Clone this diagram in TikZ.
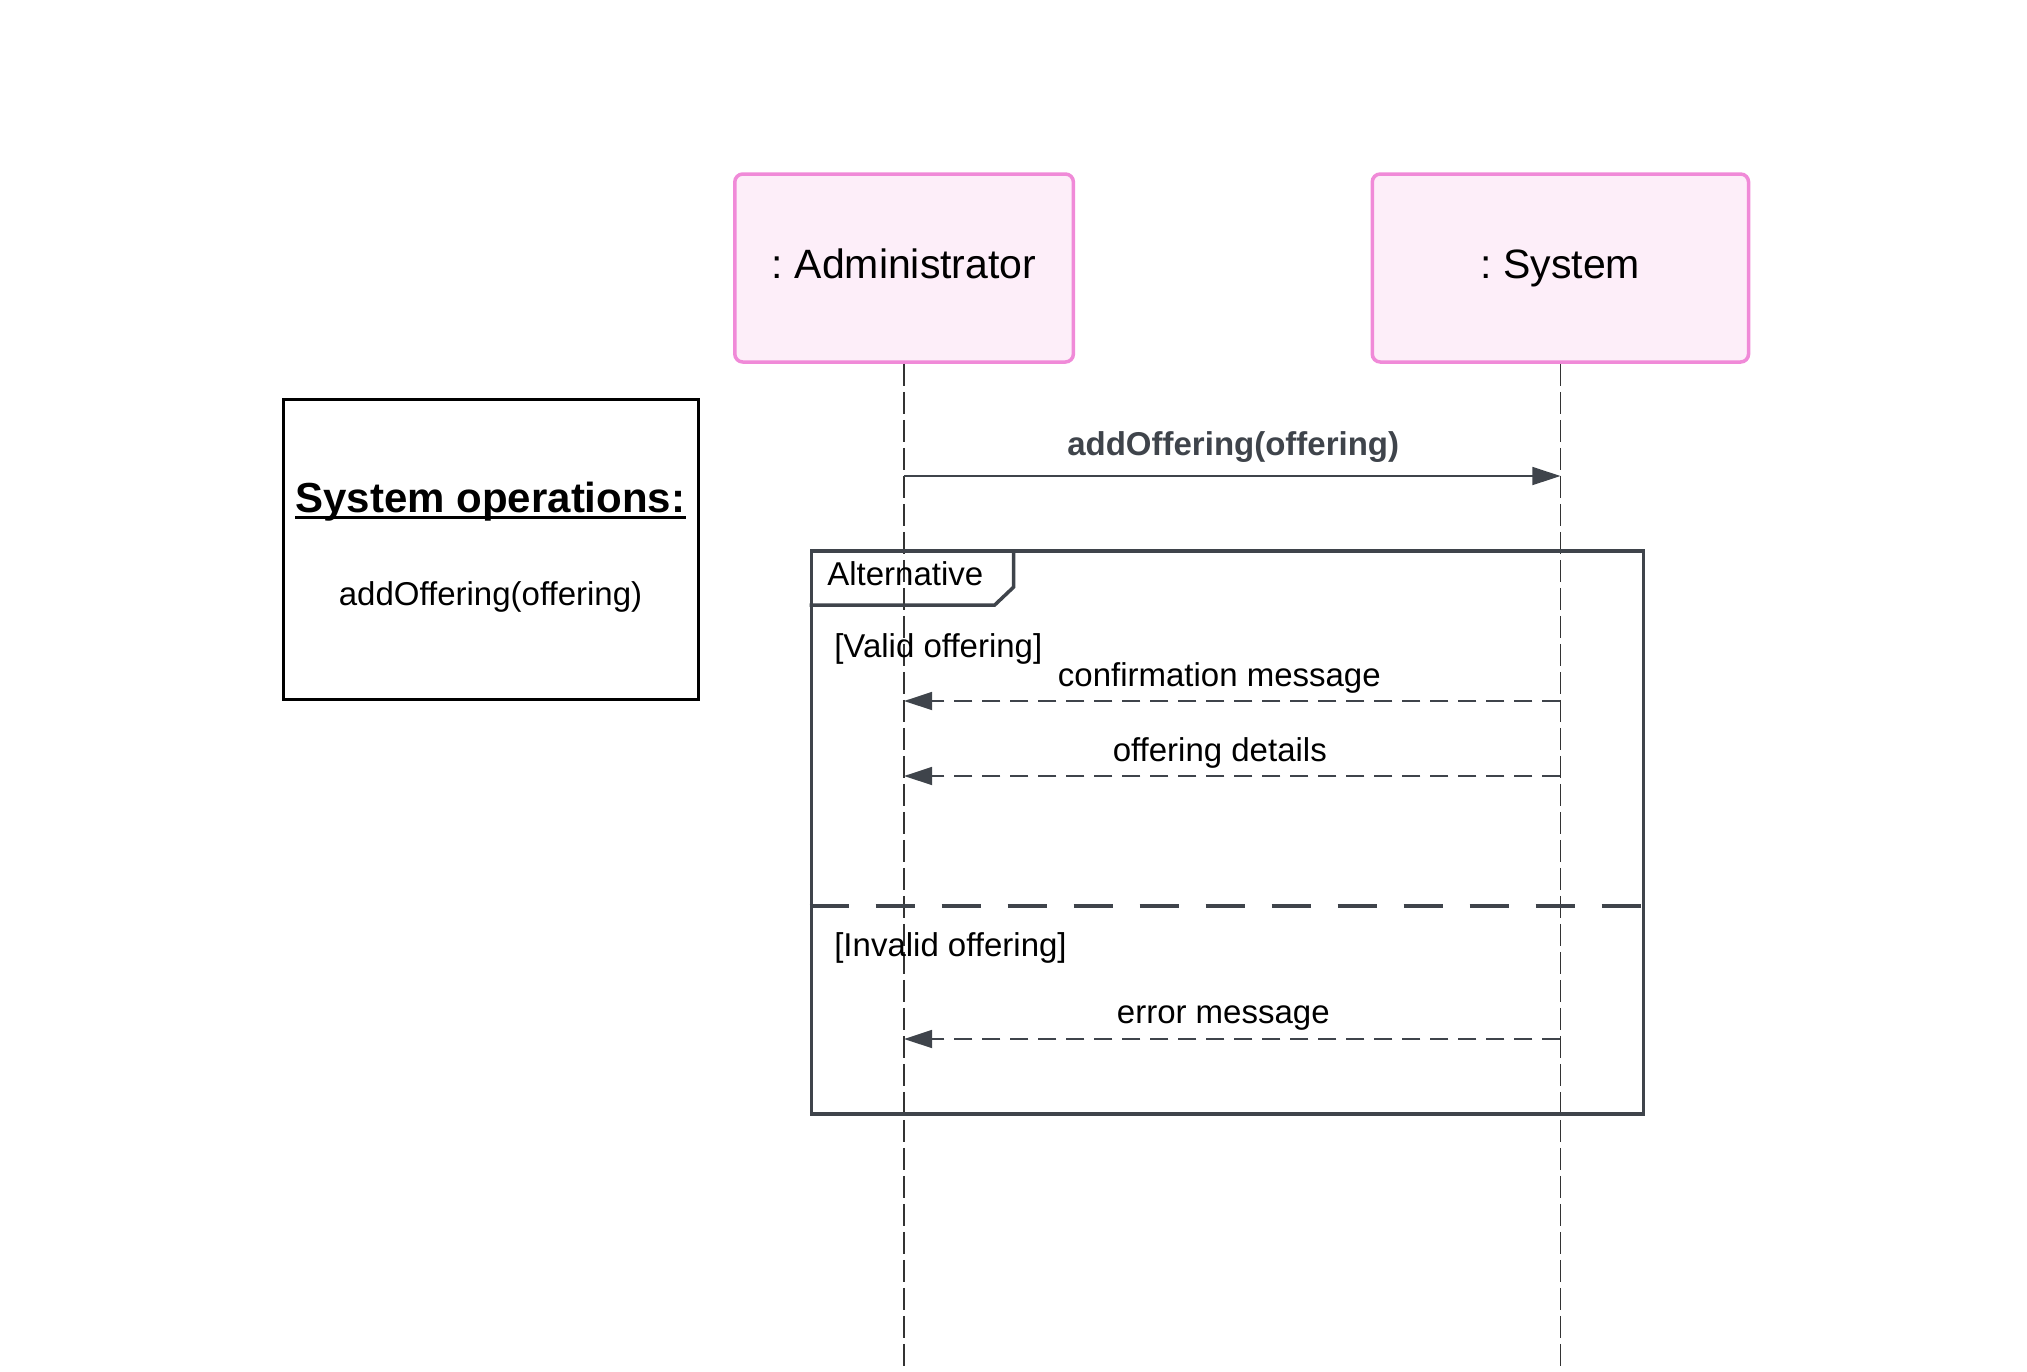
\documentclass[tikz,border=0pt]{standalone}
\usepackage{fontspec}
\setmainfont{Liberation Sans}
\usetikzlibrary{positioning,arrows.meta}
\definecolor{actorfill}{HTML}{FDEEF9}
\definecolor{actorline}{HTML}{F08AD8}
\definecolor{framegray}{HTML}{3F444B}
\frenchspacing

\begin{document}
\begin{tikzpicture}[x=1pt, y=-1pt,
  actor/.style={draw=actorline, fill=actorfill, line width=3.5pt, rounded corners=8pt, minimum height=188pt, inner sep=0pt},
  lifeline/.style={draw=black!80, line width=1.5pt, dash pattern=on 22pt off 6pt},
  call/.style={draw=framegray, line width=1.8pt, -{Triangle[length=28pt,width=18pt]}},
  reply/.style={call, dash pattern=on 18pt off 10pt},
  msg/.style={font=\fontsize{33}{40}\selectfont, inner sep=0pt},
  framelw/.style={draw=framegray, line width=3.5pt}]
\useasboundingbox (0,0) rectangle (2027,1371);

% participants
\node (admin) [actor, minimum width=338.6pt] at (904.1,268) {};
\node (sys) [actor, minimum width=376.3pt] at (1560.4,268) {};
\node (adminlbl) [anchor=base, inner sep=0pt, font=\fontsize{41}{49}\selectfont] at (904.1,278) {: Administrator};
\node (syslbl) [anchor=base, inner sep=0pt, font=\fontsize{41}{49}\selectfont] at (1560.4,278) {: System};

% lifelines
\coordinate (adminEnd) at (904.1,1371);
\coordinate (sysEnd) at (1560.4,1371);
\draw[lifeline] (admin.south) -- (adminEnd);
\draw[lifeline] (sys.south) -- (sysEnd);

% system operations box
\node (ops) [draw, line width=3pt, minimum width=415pt, minimum height=300pt] at (490.5,549) {};
\node (opstitle) [anchor=base, inner sep=0pt, font=\bfseries\fontsize{42}{50}\selectfont] at (490.5,512) {System operations:};
\draw[line width=3pt] ([yshift=-5pt]opstitle.base west) -- ([yshift=-5pt]opstitle.base east);
\node (opsitem) [msg, anchor=base] at (490.5,605) {addOffering(offering)};

% call
\draw[call] (admin.south |- 0,476) -- (sys.south |- 0,476);
\node (calllbl) [msg, anchor=base, font=\bfseries\fontsize{33}{40}\selectfont, text=framegray] at (1233.2,455) {addOffering(offering)};

% alternative fragment
\node (alt) [framelw, minimum width=832pt, minimum height=563pt, anchor=north west] at (809.7,549) {};
\draw[framelw] (alt.north west) ++(204,0) -- ++(0,38) -- ++(-19,18) -- ++(-185,0);
\node (altlbl) [msg, anchor=base west] at (827.1,585) {Alternative};
\node (guard1) [msg, anchor=base west] at (834.1,657) {[Valid offering]};
\draw[framegray, line width=4pt, dash pattern=on 39pt off 27pt] (alt.west |- 0,906) -- (alt.east |- 0,906);
\node (guard2) [msg, anchor=base west] at (834.1,956) {[Invalid offering]};

% replies
\draw[reply] (sys.south |- 0,701) -- (admin.south |- 0,701);
\node (r1lbl) [msg, anchor=base] at (1219.3,686) {confirmation message};
\draw[reply] (sys.south |- 0,776) -- (admin.south |- 0,776);
\node (r2lbl) [msg, anchor=base] at (1219.8,761) {offering details};
\draw[reply] (sys.south |- 0,1039) -- (admin.south |- 0,1039);
\node (r3lbl) [msg, anchor=base] at (1223.3,1023) {error message};
\end{tikzpicture}
\end{document}
